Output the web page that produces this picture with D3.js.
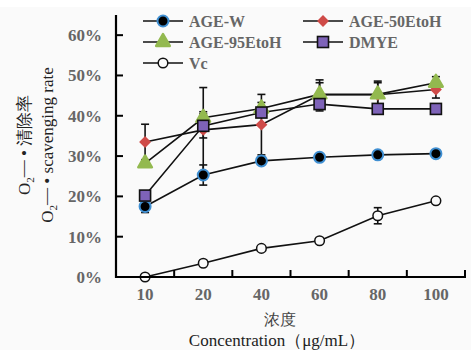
<!DOCTYPE html>
<html>
<head>
<meta charset="utf-8">
<script src="https://cdn.jsdelivr.net/npm/d3@7"></script>
<style>
  html, body { margin: 0; padding: 0; background: #fff; }
  svg { display: block; }
  svg text { font-family: "Liberation Serif", "DejaVu Serif", serif; }
</style>
</head>
<body>
<div class="canvas"></div>
<script>
// Data (in %)
const concentrations = ["10", "20", "40", "60", "80", "100"];
const ageW = [17.5, 25.3, 28.8, 29.7, 30.3, 30.6];
const ageWErr = [1.5, 2.5, 0.8, 0.8, 0.5, 0.5];
const age50 = [33.5, 36.5, 37.8, 45.2, 45.2, 46.5];
const age50Err = [4.4, 10.5, 7.5, 3.0, 3.0, 2.1];
const age95 = [28.2, 39.5, 41.8, 45.3, 45.3, 48.2];
const age95Err = [0.8, 1.5, 1.5, 3.6, 3.3, 1.5];
const dmye = [20.2, 37.5, 40.8, 42.9, 41.7, 41.7];
const dmyeErr = [0.8, 3.0, 1.0, 1.7, 0.8, 1.2];
const vc = [0, 3.4, 7.1, 9.0, 15.2, 18.9];
const vcErr = [0, 0.4, 0.5, 0.5, 2.0, 0.5];
const yTicks = [0, 10, 20, 30, 40, 50, 60];

const series = [
  { name: "AGE-W", values: ageW, err: ageWErr, symbol: "circle" },
  { name: "AGE-50EtoH", values: age50, err: age50Err, symbol: "diamond" },
  { name: "AGE-95EtoH", values: age95, err: age95Err, symbol: "triangle" },
  { name: "DMYE", values: dmye, err: dmyeErr, symbol: "square" },
  { name: "Vc", values: vc, err: vcErr, symbol: "open" },
];

const W = 471, H = 350;
const plotLeft = 116, plotRight = 465, plotTop = 15, plotBottom = 277;

const svg = d3.select(".canvas").append("svg").attr("width", W).attr("height", H);
svg.append("rect").attr("x", 0).attr("y", 7).attr("width", W).attr("height", H - 7).attr("fill", "#fafafa");

const x = d3.scaleBand().domain(concentrations).range([plotLeft, plotRight]);
const y = d3.scaleLinear().domain([0, 65]).range([plotBottom, plotTop]);
const cx = (i) => x(concentrations[i]) + x.bandwidth() / 2;

// Marker drawing
function drawMarker(g, type) {
  if (type === "circle") {
    g.append("circle").attr("r", 5.5).attr("fill", "#000").attr("stroke", "#3f8fd2").attr("stroke-width", 2);
  } else if (type === "diamond") {
    g.append("path").attr("d", d3.symbol(d3.symbolDiamond2, 90)()).attr("fill", "#cf4b48");
  } else if (type === "triangle") {
    g.append("path").attr("d", d3.symbol(d3.symbolTriangle, 80)())
      .attr("fill", "#93b94f").attr("stroke", "#93b94f").attr("stroke-width", 2.5).attr("stroke-linejoin", "round");
  } else if (type === "square") {
    g.append("rect").attr("x", -5.5).attr("y", -5.5).attr("width", 11).attr("height", 11)
      .attr("fill", "#7e63b8").attr("stroke", "#111").attr("stroke-width", 1.6);
  } else {
    g.append("circle").attr("r", 4.8).attr("fill", "#fafafa").attr("stroke", "#111").attr("stroke-width", 1.5);
  }
}

// Lines
const line = d3.line().x((d, i) => cx(i)).y((d) => y(d));
const plot = svg.append("g");
series.forEach((s) => {
  plot.append("path").attr("d", line(s.values)).attr("fill", "none").attr("stroke", "#111").attr("stroke-width", 1.6);
});

// Error bars
series.forEach((s) => {
  s.values.forEach((v, i) => {
    if (!s.err[i]) return;
    const g = plot.append("g").attr("stroke", "#111").attr("stroke-width", 1.6);
    const x0 = cx(i), y1 = y(v + s.err[i]), y2 = y(v - s.err[i]);
    g.append("line").attr("x1", x0).attr("x2", x0).attr("y1", y1).attr("y2", y2);
    g.append("line").attr("x1", x0 - 4).attr("x2", x0 + 4).attr("y1", y1).attr("y2", y1);
    g.append("line").attr("x1", x0 - 4).attr("x2", x0 + 4).attr("y1", y2).attr("y2", y2);
  });
});

// Markers
series.forEach((s) => {
  s.values.forEach((v, i) => {
    drawMarker(plot.append("g").attr("transform", `translate(${cx(i)},${y(v)})`), s.symbol);
  });
});

// Axes
const xAxis = svg.append("g").attr("transform", `translate(0,${plotBottom})`);
xAxis.append("line").attr("x1", plotLeft).attr("x2", plotRight + 1).attr("stroke", "#000").attr("stroke-width", 2.2);
x.domain().forEach((d) => {
  const xx = x(d) + x.step();
  xAxis.append("line").attr("x1", xx).attr("x2", xx).attr("y1", 0).attr("y2", -7).attr("stroke", "#000").attr("stroke-width", 2);
});
xAxis.selectAll("text.tick").data(concentrations).enter().append("text")
  .attr("x", (d, i) => cx(i)).attr("y", 23).attr("text-anchor", "middle")
  .attr("font-weight", "bold").attr("font-size", 17).attr("fill", "#666")
  .text((d) => d);

const yAxis = svg.append("g").attr("transform", `translate(${plotLeft},0)`);
yAxis.append("line").attr("y1", plotTop).attr("y2", plotBottom + 1).attr("stroke", "#000").attr("stroke-width", 2.2);
yAxis.selectAll("line.tk").data(yTicks).enter().append("line")
  .attr("x1", 0).attr("x2", 7).attr("y1", (d) => y(d)).attr("y2", (d) => y(d)).attr("stroke", "#000").attr("stroke-width", 2);
yAxis.selectAll("text").data(yTicks).enter().append("text")
  .attr("x", -14).attr("y", (d) => y(d) + 6).attr("text-anchor", "end")
  .attr("font-weight", "bold").attr("font-size", 17).attr("fill", "#666")
  .text((d) => d + "%");

// Axis titles
svg.append("text").attr("x", 280).attr("y", 325).attr("text-anchor", "middle")
  .attr("font-size", 16).attr("fill", "#444").text("浓度");
svg.append("text").attr("x", 277).attr("y", 346).attr("text-anchor", "middle")
  .attr("font-size", 17).attr("fill", "#222").text("Concentration（μg/mL）");

function yTitle(xPos, rest) {
  const t = svg.append("text").attr("transform", `translate(${xPos},145) rotate(-90)`).attr("text-anchor", "middle")
    .attr("font-size", 17).attr("fill", "#222");
  t.append("tspan").text("O");
  t.append("tspan").attr("font-size", 11).attr("dy", 4).text("2");
  t.append("tspan").attr("dy", -6).text("—");
  t.append("tspan").attr("dy", 2).text(" • " + rest);
}
yTitle(30, "清除率");
yTitle(53, "scavenging rate");

// Legend
const legend = [
  { s: series[0], x: 143, y: 21 },
  { s: series[1], x: 303, y: 21 },
  { s: series[2], x: 143, y: 42 },
  { s: series[3], x: 303, y: 42 },
  { s: series[4], x: 143, y: 63 },
];
legend.forEach((l) => {
  const g = svg.append("g").attr("transform", `translate(${l.x},${l.y})`);
  g.append("line").attr("x1", 0).attr("x2", 40).attr("stroke", "#111").attr("stroke-width", 1.6);
  drawMarker(g.append("g").attr("transform", "translate(20,0)"), l.s.symbol);
  g.append("text").attr("x", 46).attr("y", 6).attr("font-weight", "bold")
    .attr("font-size", 16).attr("fill", "#666").text(l.s.name);
});
</script>
</body>
</html>
